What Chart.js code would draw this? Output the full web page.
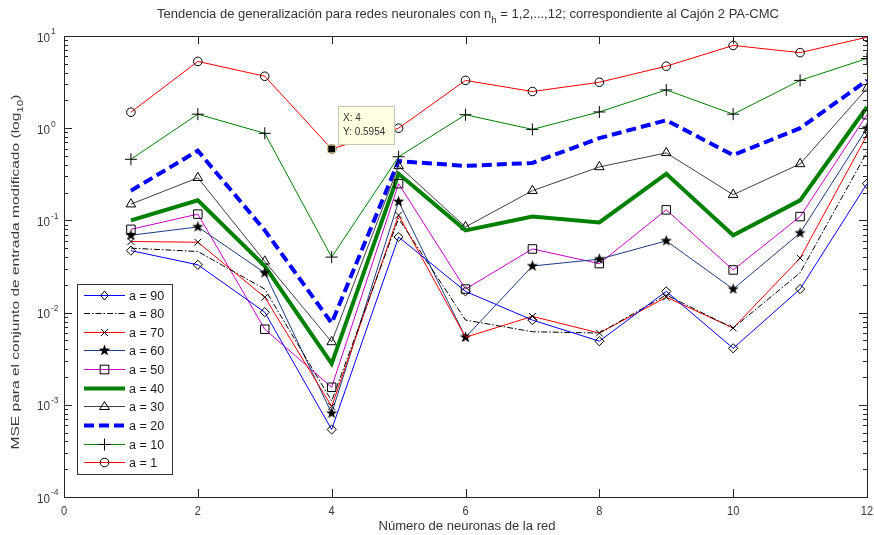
<!DOCTYPE html>
<html><head><meta charset="utf-8">
<script src="https://cdn.jsdelivr.net/npm/chart.js@4.4.1/dist/chart.umd.min.js"></script>
<style>html,body{margin:0;padding:0;background:#fff;}canvas{display:block;}</style>
</head><body>
<canvas id="c" width="874" height="535" style="width:874px;height:535px"></canvas>
<script>
// ---- data ----
const neurons = [1,2,3,4,5,6,7,8,9,10,11,12];
const a90 = [0.047,0.033,0.0101,0.00054,0.066,0.017,0.0083,0.0049,0.017,0.0041,0.018,0.25];
const a80 = [0.050,0.046,0.018,0.0011,0.105,0.0083,0.0062,0.0060,0.0155,0.0068,0.027,0.55];
const a70 = [0.059,0.058,0.0147,0.00096,0.114,0.0054,0.0091,0.0060,0.0147,0.0068,0.039,0.84];
const a60 = [0.069,0.085,0.027,0.00081,0.16,0.0054,0.032,0.038,0.060,0.018,0.073,1.0];
const a50 = [0.080,0.117,0.0066,0.00155,0.25,0.018,0.049,0.034,0.13,0.029,0.11,1.4];
const a40 = [0.100,0.165,0.032,0.0028,0.32,0.078,0.11,0.095,0.32,0.069,0.165,1.7];
const a30 = [0.15,0.29,0.036,0.0048,0.39,0.085,0.21,0.38,0.54,0.19,0.41,2.7];
const a20 = [0.21,0.57,0.078,0.0077,0.44,0.39,0.42,0.78,1.22,0.51,1.0,3.3];
const a10 = [0.46,1.42,0.88,0.040,0.49,1.4,0.97,1.5,2.6,1.42,3.3,5.7];
const a1  = [1.49,5.3,3.66,0.5954,1.0,3.3,2.5,3.15,4.7,7.9,6.6,9.7];
const seriesLabels = ['a = 90','a = 80','a = 70','a = 60','a = 50','a = 40','a = 30','a = 20','a = 10','a = 1'];
const xTicks = [0,2,4,6,8,10,12];
const yExponents = [1,0,-1,-2,-3,-4];
const tipX = 4, tipY = 0.5954;
const titleRuns = [['Tendencia de generalización para redes neuronales con n',0],['h',-1],[' = 1,2,...,12; correspondiente al Cajón 2 PA-CMC',0]];
const yTitleRuns = [['MSE para el conjunto de entrada modificado (log',0],['10',-1],[')',0]];
const xTitle = 'Número de neuronas de la red';

// ---- styles ----
function starCanvas(){
  const c=document.createElement('canvas');c.width=13;c.height=13;const g=c.getContext('2d');
  g.fillStyle='#000';g.beginPath();
  for(let i=0;i<10;i++){const r=i%2?2.4:6;const a=-Math.PI/2+i*Math.PI/5;g.lineTo(6.5+r*Math.cos(a),6.5+r*Math.sin(a));}
  g.closePath();g.fill();return c;
}
const STAR = starCanvas();
const styles = [
  {c:'#0000ff', w:1, dash:[], m:'rectRot', r:4.6},
  {c:'#000000', w:1, dash:[6,2,1.5,2], m:null, r:0},
  {c:'#ff0000', w:1, dash:[], m:'crossRot', r:4.8},
  {c:'#1c3b80', w:1, dash:[], m:'star', r:6},
  {c:'#c800c8', w:1, dash:[], m:'rect', r:6},
  {c:'#008000', w:4, dash:[], m:null, r:0},
  {c:'#404040', w:1, dash:[], m:'triangle', r:5.5},
  {c:'#0000ff', w:4, dash:[10,5], m:null, r:0},
  {c:'#008000', w:1, dash:[], m:'cross', r:6},
  {c:'#ff0000', w:1, dash:[], m:'circle', r:4.3}
];
const allSeries = [a90,a80,a70,a60,a50,a40,a30,a20,a10,a1];

const datasets = allSeries.map((arr,i)=>{
  const s=styles[i];
  return {
    label: seriesLabels[i],
    data: neurons.map((n,k)=>({x:n,y:arr[k]})),
    borderColor: s.c, borderWidth: s.w, borderDash: s.dash,
    backgroundColor: 'transparent', fill:false, tension:0,
    pointStyle: s.m==='star'?STAR:(s.m||'circle'),
    pointRadius: s.m? s.r:0, pointHoverRadius: s.m? s.r:0,
    pointBorderColor:'#000', pointBackgroundColor:'rgba(0,0,0,0)', pointBorderWidth:1,
    order: i
  };
});

function drawRuns(ctx, runs, cx, cy, size, targetW, color){
  ctx.save();
  ctx.fillStyle=color;ctx.textBaseline='alphabetic';ctx.textAlign='left';
  let w=0; const parts=[];
  runs.forEach(([t,mode])=>{
    const fs = mode? size*0.75:size;
    ctx.font = fs+'px "Liberation Sans", Arial, sans-serif';
    const tw=ctx.measureText(t).width; parts.push([t,mode,fs,tw]); w+=tw;
  });
  const sx = targetW? targetW/w : 1;
  ctx.translate(cx,cy); ctx.scale(sx,1);
  let x=-w/2;
  parts.forEach(([t,mode,fs,tw])=>{
    ctx.font = fs+'px "Liberation Sans", Arial, sans-serif';
    const dy = mode===-1? size*0.35 : (mode===1? -size*0.45:0);
    ctx.fillText(t,x,size*0.36+dy); x+=tw;
  });
  ctx.restore();
}

function drawMarker(ctx,m,x,y,r){
  ctx.save();ctx.strokeStyle='#000';ctx.fillStyle='#000';ctx.lineWidth=1;ctx.setLineDash([]);
  ctx.beginPath();
  if(m==='circle'){ctx.arc(x,y,r,0,Math.PI*2);ctx.stroke();}
  else if(m==='cross'){ctx.moveTo(x-r,y);ctx.lineTo(x+r,y);ctx.moveTo(x,y-r);ctx.lineTo(x,y+r);ctx.stroke();}
  else if(m==='crossRot'){const d=r*0.72;ctx.moveTo(x-d,y-d);ctx.lineTo(x+d,y+d);ctx.moveTo(x+d,y-d);ctx.lineTo(x-d,y+d);ctx.stroke();}
  else if(m==='rect'){const d=r*0.72;ctx.strokeRect(x-d,y-d,2*d,2*d);}
  else if(m==='rectRot'){ctx.moveTo(x,y-r);ctx.lineTo(x+r*0.8,y);ctx.lineTo(x,y+r);ctx.lineTo(x-r*0.8,y);ctx.closePath();ctx.stroke();}
  else if(m==='triangle'){ctx.moveTo(x,y-r*0.9);ctx.lineTo(x+r*0.9,y+r*0.55);ctx.lineTo(x-r*0.9,y+r*0.55);ctx.closePath();ctx.stroke();}
  else if(m==='star'){ctx.drawImage(STAR,x-6.5,y-6.5);}
  ctx.restore();
}

const framePlugin = {
  id:'frame',
  beforeDraw(chart){const c=chart.ctx;c.save();c.fillStyle='#fff';c.fillRect(0,0,chart.width,chart.height);c.restore();},
  afterDraw(chart){
    const ctx=chart.ctx, xs=chart.scales.x, ys=chart.scales.y, A=chart.chartArea;
    const L=Math.round(A.left), R=Math.round(A.right), T=Math.round(A.top), B=Math.round(A.bottom);
    ctx.save();
    ctx.strokeStyle='#262626';ctx.lineWidth=1;ctx.setLineDash([]);
    ctx.strokeRect(L+0.5,T+0.5,R-L,B-T);
    ctx.beginPath();
    yExponents.forEach(e=>{
      const y=Math.round(ys.getPixelForValue(Math.pow(10,e)))+0.5;
      ctx.moveTo(L,y);ctx.lineTo(L+8,y);ctx.moveTo(R,y);ctx.lineTo(R-8,y);
      if(e<1){for(let m=2;m<=9;m++){const yy=Math.round(ys.getPixelForValue(m*Math.pow(10,e)))+0.5;ctx.moveTo(L,yy);ctx.lineTo(L+4,yy);ctx.moveTo(R,yy);ctx.lineTo(R-4,yy);}}
    });
    xTicks.forEach(v=>{const x=Math.round(xs.getPixelForValue(v))+0.5;ctx.moveTo(x,B);ctx.lineTo(x,B-8);ctx.moveTo(x,T);ctx.lineTo(x,T+8);});
    ctx.stroke();
    // y tick labels
    ctx.fillStyle='#3a3a3a';
    yExponents.forEach(e=>{
      const y=ys.getPixelForValue(Math.pow(10,e));
      ctx.font='13px "Liberation Sans", Arial, sans-serif';ctx.textAlign='right';ctx.textBaseline='middle';
      ctx.save();ctx.translate(50,y+2);ctx.scale(0.9,1);ctx.fillText('10',0,0);ctx.restore();
      ctx.font='8.5px "Liberation Sans", Arial, sans-serif';ctx.textAlign='left';
      ctx.fillText(String(e),51,y-4);
    });
    // x tick labels
    ctx.font='13px "Liberation Sans", Arial, sans-serif';ctx.textAlign='center';ctx.textBaseline='middle';
    xTicks.forEach(v=>{const x=xs.getPixelForValue(v);ctx.save();ctx.translate(x,B+14);ctx.scale(0.85,1);ctx.fillText(String(v),0,0);ctx.restore();});
    ctx.restore();
    // titles
    drawRuns(ctx,titleRuns,468,14,12,622,'#333');
    drawRuns(ctx,[[xTitle,0]],467,526,12,177,'#333');
    ctx.save();ctx.translate(15,272);ctx.rotate(-Math.PI/2);drawRuns(ctx,yTitleRuns,0,0,11,355,'#3a3a3a');ctx.restore();
    // legend
    ctx.save();
    const lx=77, ly=284, lw=95, lh=190;
    ctx.fillStyle='#fff';ctx.fillRect(lx,ly,lw,lh);
    ctx.strokeStyle='#333';ctx.lineWidth=1;ctx.strokeRect(lx+0.5,ly+0.5,lw,lh);
    seriesLabels.forEach((lab,i)=>{
      const s=styles[i]; const y=Math.round(ly+10.5+i*18.65)+0.5;
      ctx.strokeStyle=s.c;ctx.lineWidth=s.w;ctx.setLineDash(s.dash);
      ctx.beginPath();ctx.moveTo(84,y);ctx.lineTo(125,y);ctx.stroke();ctx.setLineDash([]);
      if(s.m) drawMarker(ctx,s.m,104.5,y,s.r);
      ctx.fillStyle='#1a1a1a';ctx.font='12.5px "Liberation Sans", Arial, sans-serif';ctx.textAlign='left';ctx.textBaseline='middle';
      ctx.fillText(lab,129,y+1);
    });
    ctx.restore();
    // data tip
    ctx.save();
    const px=xs.getPixelForValue(tipX), py=ys.getPixelForValue(tipY);
    ctx.fillStyle='#ffffe1';ctx.strokeStyle='#c8c8b0';ctx.lineWidth=1;
    ctx.fillRect(338,106,56,38);ctx.strokeRect(338.5,106.5,56,38);
    ctx.fillStyle='#000';ctx.fillRect(px-3.5,py-3.5,7,7);
    ctx.strokeStyle='#e8e0a0';ctx.strokeRect(px-4,py-4,8,8);
    ctx.fillStyle='#333';ctx.font='10px "Liberation Sans", Arial, sans-serif';ctx.textAlign='left';ctx.textBaseline='middle';
    ctx.fillText('X: '+tipX,343,118);ctx.fillText('Y: '+tipY,343,132);
    ctx.restore();
  }
};

new Chart(document.getElementById('c'),{
  type:'line',
  data:{datasets},
  options:{
    responsive:false, animation:false, devicePixelRatio:1,
    layout:{padding:{left:64,top:36,right:4,bottom:38}},
    plugins:{legend:{display:false},tooltip:{enabled:false},title:{display:false}},
    events:[],
    scales:{
      x:{type:'linear',min:0,max:12,display:false},
      y:{type:'logarithmic',min:1e-4,max:10,display:false}
    }
  },
  plugins:[framePlugin]
});
</script>
</body></html>
